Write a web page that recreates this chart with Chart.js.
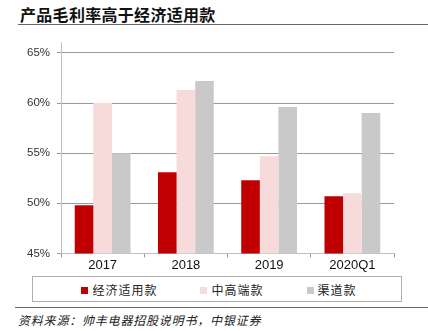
<!DOCTYPE html>
<html>
<head>
<meta charset="utf-8">
<script src="https://cdn.jsdelivr.net/npm/chart.js@4"></script>
<style>
  html, body { margin: 0; padding: 0; background: #fff; }
  body { width: 428px; height: 331px; position: relative; overflow: hidden;
         font-family: "Noto Sans CJK SC", sans-serif; }
  .title { position: absolute; left: 20px; top: 2px; font-size: 16px; font-weight: bold;
           color: #111; letter-spacing: 0.3px; }
  .rule { position: absolute; right: 0; height: 1px; background: #666; }
  .wrap { position: absolute; left: 0; top: 29px; width: 428px; height: 244px; }
  .legend { position: absolute; left: 32px; top: 276px; height: 24px;
            border: 1px solid #b0b0b0; display: flex; justify-content: center;
            align-items: center; gap: 43px; font-size: 12px; color: #222; letter-spacing: 1px;
            padding-left: 4px; box-sizing: content-box; width: 364px; }
  .legend span.box { display: inline-block; width: 7px; height: 7px; margin-right: 4px;
                     vertical-align: 1px; }
  .source { position: absolute; left: 18px; top: 311px; font-size: 12px; font-style: italic;
            color: #222; letter-spacing: 0.8px; }
</style>
</head>
<body>
<div class="title">产品毛利率高于经济适用款</div>
<div class="rule" style="left:18px; top:24px;"></div>
<div class="wrap"><canvas id="myChart"></canvas></div>
<div class="legend" id="legend"></div>
<div class="rule" style="left:15px; top:307px;"></div>
<div class="source">资料来源：帅丰电器招股说明书，中银证券</div>

<script>
// -------- data --------
let years = ["2017", "2018", "2019", "2020Q1"];
let economy = [49.8, 53.1, 52.3, 50.7];   // 经济适用款
let midHigh = [60.0, 61.3, 54.7, 51.0];   // 中高端款
let channel = [55.0, 62.2, 59.6, 59.0];   // 渠道款
let series_names = ["经济适用款", "中高端款", "渠道款"];
let y_ticks = [45, 50, 55, 60, 65];

let colors = ["#C00000", "#F7DADA", "#C9C9C9"];

let chart = new Chart("myChart", {
  type: "bar",
  data: {
    labels: years,
    datasets: [
      { label: series_names[0], data: economy, backgroundColor: colors[0] },
      { label: series_names[1], data: midHigh, backgroundColor: colors[1] },
      { label: series_names[2], data: channel, backgroundColor: colors[2] },
    ],
  },
  options: {
    responsive: true,
    maintainAspectRatio: false,
    animation: false,
    layout: { padding: { top: 0, right: 34, bottom: 0, left: 0 } },
    datasets: { bar: { categoryPercentage: 0.67, barPercentage: 1.0 } },
    plugins: { legend: { display: false }, tooltip: { enabled: false } },
    scales: {
      x: {
        grid: { offset: true, drawOnChartArea: false, drawTicks: true, tickLength: 4, color: "#999" },
        border: { color: "#c0c0c0" },
        ticks: { padding: 0, color: "#111", font: { family: "Liberation Sans", size: 13 } },
      },
      y: {
        min: y_ticks[0],
        max: 66,
        afterFit: (scale) => { scale.width = 61; },
        afterBuildTicks: (scale) => { scale.ticks = y_ticks.map((v) => ({ value: v })); },
        grid: {
          color: (c) => (c.tick && c.tick.value === y_ticks[0] ? "#c0c0c0" : "#9a9a9a"),
          tickColor: "#9a9a9a",
          tickLength: 4,
        },
        border: { color: "#c0c0c0" },
        ticks: {
          padding: 7,
          color: "#333",
          font: { family: "Liberation Sans", size: 11.5 },
          callback: (v) => v + "%",
        },
      },
    },
  },
});

// html legend from the datasets
let legend = document.getElementById("legend");
chart.data.datasets.forEach((ds) => {
  let item = document.createElement("div");
  item.innerHTML = `<span class="box" style="background:${ds.backgroundColor}"></span>${ds.label}`;
  legend.appendChild(item);
});
</script>
</body>
</html>
